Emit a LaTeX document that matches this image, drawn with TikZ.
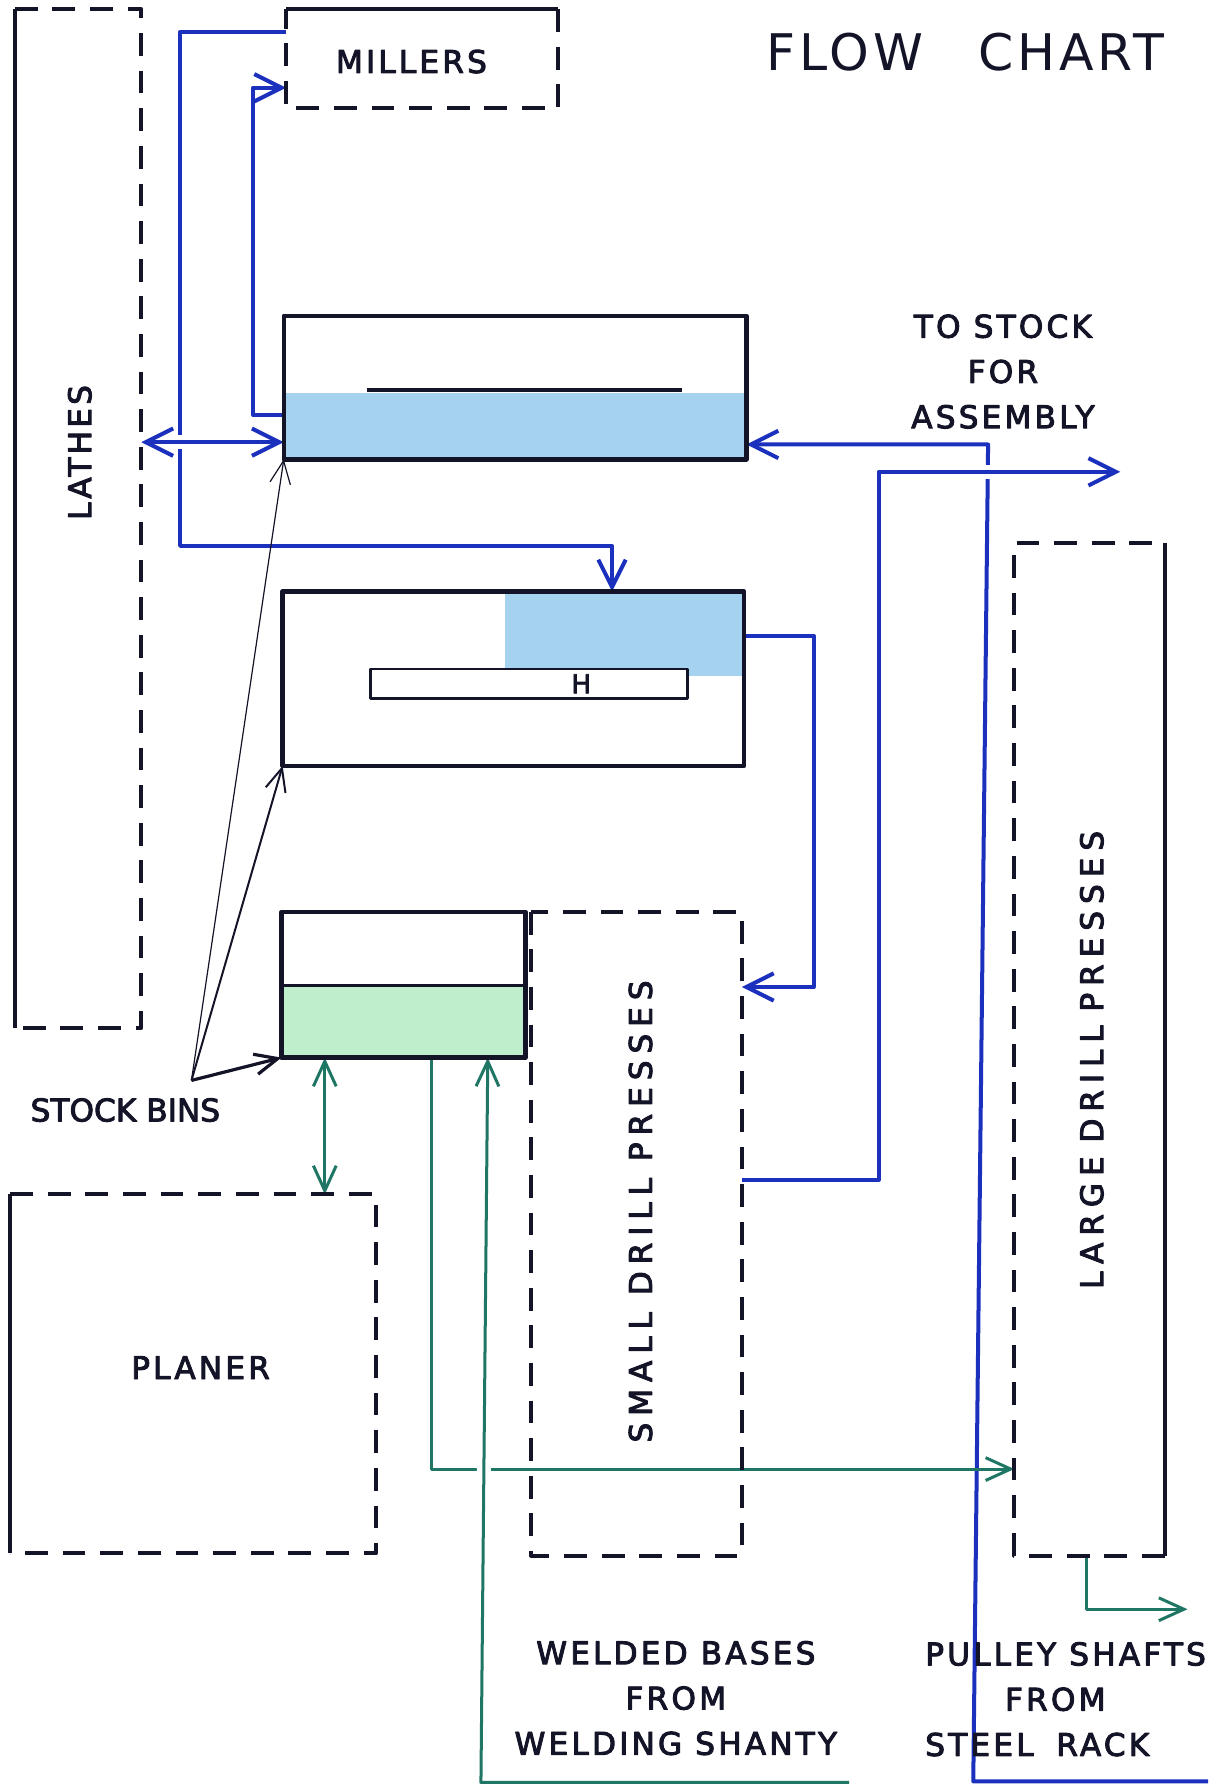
\documentclass[tikz,border=0pt]{standalone}
\usepackage{fontspec}
\setmainfont{DejaVu Sans}
\newfontfamily\handfont[LetterSpace=10, FakeBold=3]{DejaVu Sans}
\newfontfamily\tightfont[LetterSpace=0, FakeBold=3]{DejaVu Sans}
\newfontfamily\widefont[LetterSpace=22, FakeBold=3]{DejaVu Sans}
\newfontfamily\titlefont[LetterSpace=8]{DejaVu Sans}
\usetikzlibrary{arrows.meta}
\definecolor{flowblue}{RGB}{28,48,190}
\definecolor{flowgreen}{RGB}{32,118,100}
\definecolor{binblue}{RGB}{165,210,238}
\definecolor{bingreen}{RGB}{190,238,204}
\definecolor{ink}{RGB}{20,20,40}

\begin{document}
\begin{tikzpicture}[x=0.1mm, y=-0.1mm, line join=round,
  every node/.style={font=\handfont\fontsize{7.8}{11.3}\selectfont, text=ink},
  area/.style={inner sep=0pt, outer sep=0pt},
  solidside/.style={draw=ink, line width=1pt},
  dashside/.style={draw=ink, line width=1pt, dash pattern=on 2mm off 1.3mm},
  binwall/.style={draw=ink, line width=1.1pt},
  flowb/.style={draw=flowblue, line width=1pt, -{Straight Barb[length=2.4mm,width=2.4mm]}},
  flowg/.style={draw=flowgreen, line width=0.75pt, -{Straight Barb[length=2.2mm,width=2mm]}},
  pointer/.style={draw=ink, -{Straight Barb[length=2mm,width=1.8mm]}},
  halo/.style={preaction={draw=white, line width=3.5pt, -}},
  wide/.style={font=\widefont\fontsize{7.8}{11.3}\selectfont}]
  \useasboundingbox (0,0) rectangle (1078,1568);

  % machine areas and bins
  \node[area, minimum width=11.1mm, minimum height=89.4mm] (lathes) at (68.5,455) {};
  \node[area, minimum width=23.9mm, minimum height=8.7mm] (millers) at (370.5,51.5) {};
  \node[area, minimum width=40.6mm, minimum height=12.6mm] (bin1) at (452,340) {};
  \node[area, minimum width=40.5mm, minimum height=15.3mm] (bin2) at (450.5,595.5) {};
  \node[area, minimum width=21.4mm, minimum height=12.8mm] (bin3) at (354,864) {};
  \node[area, minimum width=18.5mm, minimum height=56.5mm] (smalldrill) at (558.5,1082.5) {};
  \node[area, minimum width=32.1mm, minimum height=31.5mm] (planer) at (169.5,1205.5) {};
  \node[area, minimum width=13.2mm, minimum height=88.9mm] (largedrill) at (956,920.5) {};

  % stock in the bins
  \fill[binblue] (bin1.south west) rectangle (bin1.east |- 0,345);
  \fill[binblue] (bin2.north -| 443,0) rectangle (bin2.east |- 0,593);
  \fill[bingreen] (bin3.south west) rectangle (bin3.east |- 0,865);
  \node[area, draw=ink, fill=white, line width=0.7pt, minimum width=27.8mm, minimum height=2.6mm] (rack) at (464,600) {};
  \node[font=\tightfont\fontsize{6.5}{7}\selectfont] (rackmark) at (510,600) {H};

  \coordinate (steelrack) at (1060,1563);
  \coordinate (weldshanty) at (745,1564);
  \coordinate (tostock) at (983,414);
  \coordinate (drillout) at (1042,1412);
  \coordinate (binsapex) at (168,948);

  % blue flow
  \draw[flowb] (millers.west |- 0,28) -| (158,479) -| (537,0 |- bin2.north);
  \draw[flowb, {Straight Barb[length=2.4mm,width=2.4mm]}-{Straight Barb[length=2.4mm,width=2.4mm]}, halo]
    (lathes.east |- 0,388) -- (bin1.west |- 0,388);
  \draw[flowb] (bin1.west |- 0,364) -| (222,77) -- (millers.west |- 0,77);
  \draw[flowb] (bin2.east |- 0,558) -| (714,866) -- (smalldrill.east |- 0,866);
  \draw[flowb] (steelrack) -- (854,1563) -- (867,390) -- (bin1.east |- 0,390);
  \draw[flowb, halo] (smalldrill.east |- 0,1035) -| (771,414) -- (tostock);

  % green flow
  \draw[flowg, {Straight Barb[length=2.2mm,width=2mm]}-{Straight Barb[length=2.2mm,width=2mm]}]
    (bin3.south -| 285,0) -- (planer.north -| 285,0);
  \draw[flowg] (bin3.south -| 379,0) |- (largedrill.west |- 0,1289);
  \draw[flowg, halo] (weldshanty) -- (422,1564) -- (bin3.south -| 428,0);
  \draw[flowg] (largedrill.south -| 953,0) |- (drillout);

  % stock bin pointers
  \draw[pointer, line width=0.3pt] (binsapex) -- (bin1.south west);
  \draw[pointer, line width=0.5pt] (binsapex) -- (bin2.south west);
  \draw[pointer, line width=0.8pt] (binsapex) -- (bin3.south west);

  % outlines
  \draw[solidside] (lathes.south west) -- (lathes.north west);
  \draw[dashside] (lathes.north west) -- (lathes.north east) -- (lathes.south east) -- (lathes.south west);
  \draw[solidside] (millers.north west) -- (millers.north east);
  \draw[dashside] (millers.north east) -- (millers.south east) -- (millers.south west) -- (millers.north west);
  \draw[solidside] (planer.south west) -- (planer.north west);
  \draw[dashside] (planer.north west) -- (planer.north east) -- (planer.south east) -- (planer.south west);
  \draw[solidside] (largedrill.north east) -- (largedrill.south east);
  \draw[dashside] (largedrill.south east) -- (largedrill.south west) -- (largedrill.north west) -- (largedrill.north east);
  \draw[dashside] (smalldrill.north west) rectangle (smalldrill.south east);
  \draw[binwall] (bin1.south west) rectangle (bin1.north east);
  \draw[binwall] (bin2.south west) rectangle (bin2.north east);
  \draw[binwall] (bin3.south west) rectangle (bin3.north east);
  \draw[ink, line width=0.9pt] (322,342) -- (598,342);
  \draw[ink, line width=0.8pt] (bin3.west |- 0,865) -- (bin3.east |- 0,865);

  % labels
  \node[font=\titlefont\fontsize{12.6}{15}\selectfont] (title) at (847,46) {FLOW\hspace{4.8mm}CHART};
  \node[rotate=90] (lathestext) at (70,397) {LATHES};
  \node (millerstext) at (361,54) {MILLERS};
  \node (planertext) at (176,1200) {PLANER};
  \node[font=\tightfont\fontsize{7.8}{11.3}\selectfont] (binstext) at (110,974) {STOCK BINS};
  \node[wide, rotate=90] (smalltext) at (562,1063) {SMALL DRILL PRESSES};
  \node[wide, rotate=90] (largetext) at (958,930) {LARGE\hspace{1.2mm}DRILL\hspace{1.2mm}PRESSES};
  \node[align=center] (stocktext) at (880,326) {TO STOCK\\FOR\\ASSEMBLY};
  \node[align=center] (weldtext) at (593,1490) {WELDED BASES\\FROM\\WELDING SHANTY};
  \node[align=left] (pulleytext) at (935,1491) {PULLEY SHAFTS\\\hspace*{7mm}FROM\\STEEL\hspace{2mm}RACK};
\end{tikzpicture}
\end{document}
